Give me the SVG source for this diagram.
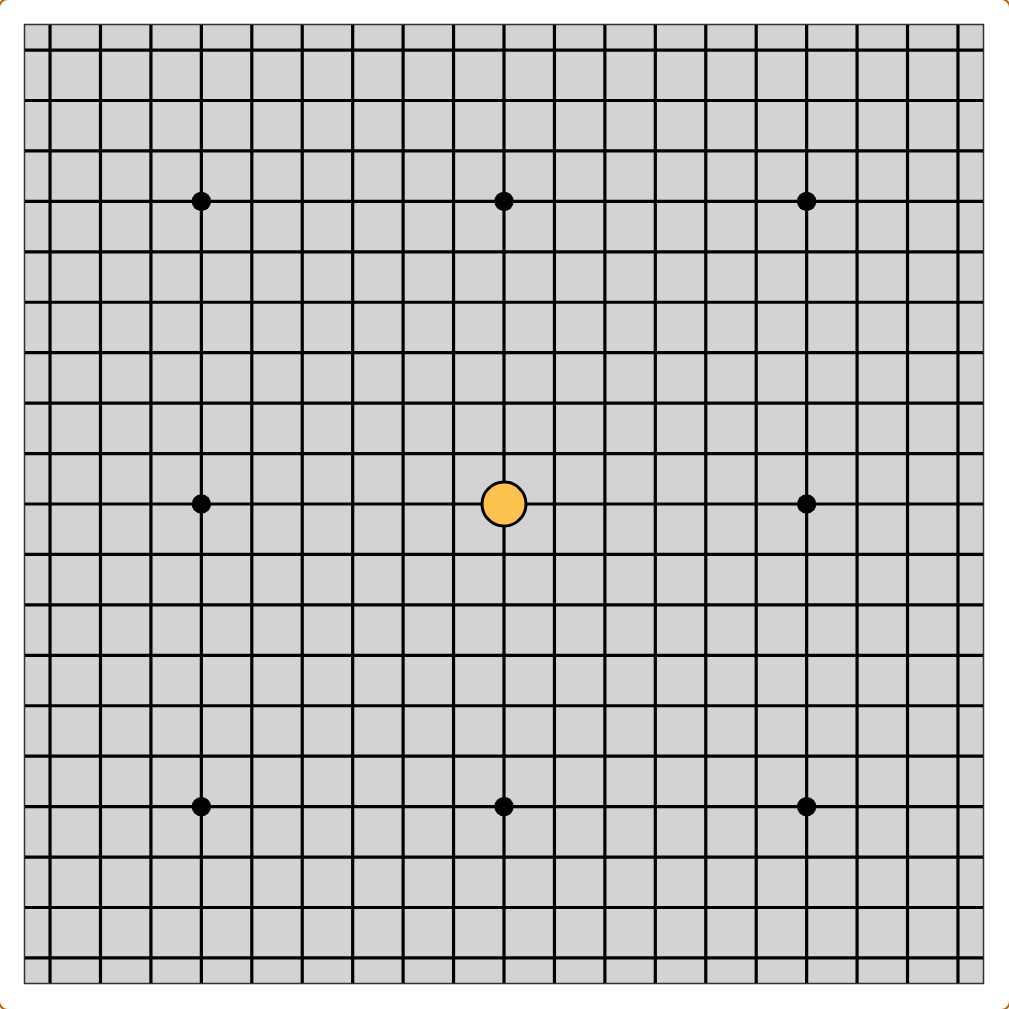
<svg xmlns="http://www.w3.org/2000/svg" width="1009" height="1009" viewBox="0 0 1009 1009">
<defs>
<style>
.g{stroke:#000;stroke-width:3.2;fill:none}
.star{fill:#000}
.stone{fill:#FEC34F;stroke:#000;stroke-width:3}
</style>
</defs>
<rect x="0" y="0" width="1009" height="1009" fill="#fff"/>
<rect x="-1" y="-1" width="1011" height="1011" rx="9" fill="none" stroke="#b5620b" stroke-width="2"/>
<rect id="board" x="24.5" y="24.5" width="959" height="959" fill="#d3d3d3" stroke="#333" stroke-width="1.5"/>
<g id="grid" class="g">
<path d="M50.04 25V983M100.48 25V983M150.92 25V983M201.36 25V983M251.8 25V983M302.24 25V983M352.68 25V983M403.12 25V983M453.56 25V983M504 25V983M554.44 25V983M604.88 25V983M655.32 25V983M705.76 25V983M756.2 25V983M806.64 25V983M857.08 25V983M907.52 25V983M957.96 25V983"/>
<path d="M25 50.04H983M25 100.48H983M25 150.92H983M25 201.36H983M25 251.8H983M25 302.24H983M25 352.68H983M25 403.12H983M25 453.56H983M25 504H983M25 554.44H983M25 604.88H983M25 655.32H983M25 705.76H983M25 756.2H983M25 806.64H983M25 857.08H983M25 907.52H983M25 957.96H983"/>
</g>
<g id="star-points">
<g id="star-1"><circle class="star" cx="201.36" cy="201.36" r="9.7"/></g>
<g id="star-2"><circle class="star" cx="504" cy="201.36" r="9.7"/></g>
<g id="star-3"><circle class="star" cx="806.64" cy="201.36" r="9.7"/></g>
<g id="star-4"><circle class="star" cx="201.36" cy="504" r="9.7"/></g>
<g id="star-6"><circle class="star" cx="806.64" cy="504" r="9.7"/></g>
<g id="star-7"><circle class="star" cx="201.36" cy="806.64" r="9.7"/></g>
<g id="star-8"><circle class="star" cx="504" cy="806.64" r="9.7"/></g>
<g id="star-9"><circle class="star" cx="806.64" cy="806.64" r="9.7"/></g>
</g>
<g id="stone"><circle class="stone" cx="504" cy="504" r="22"/></g>
</svg>
